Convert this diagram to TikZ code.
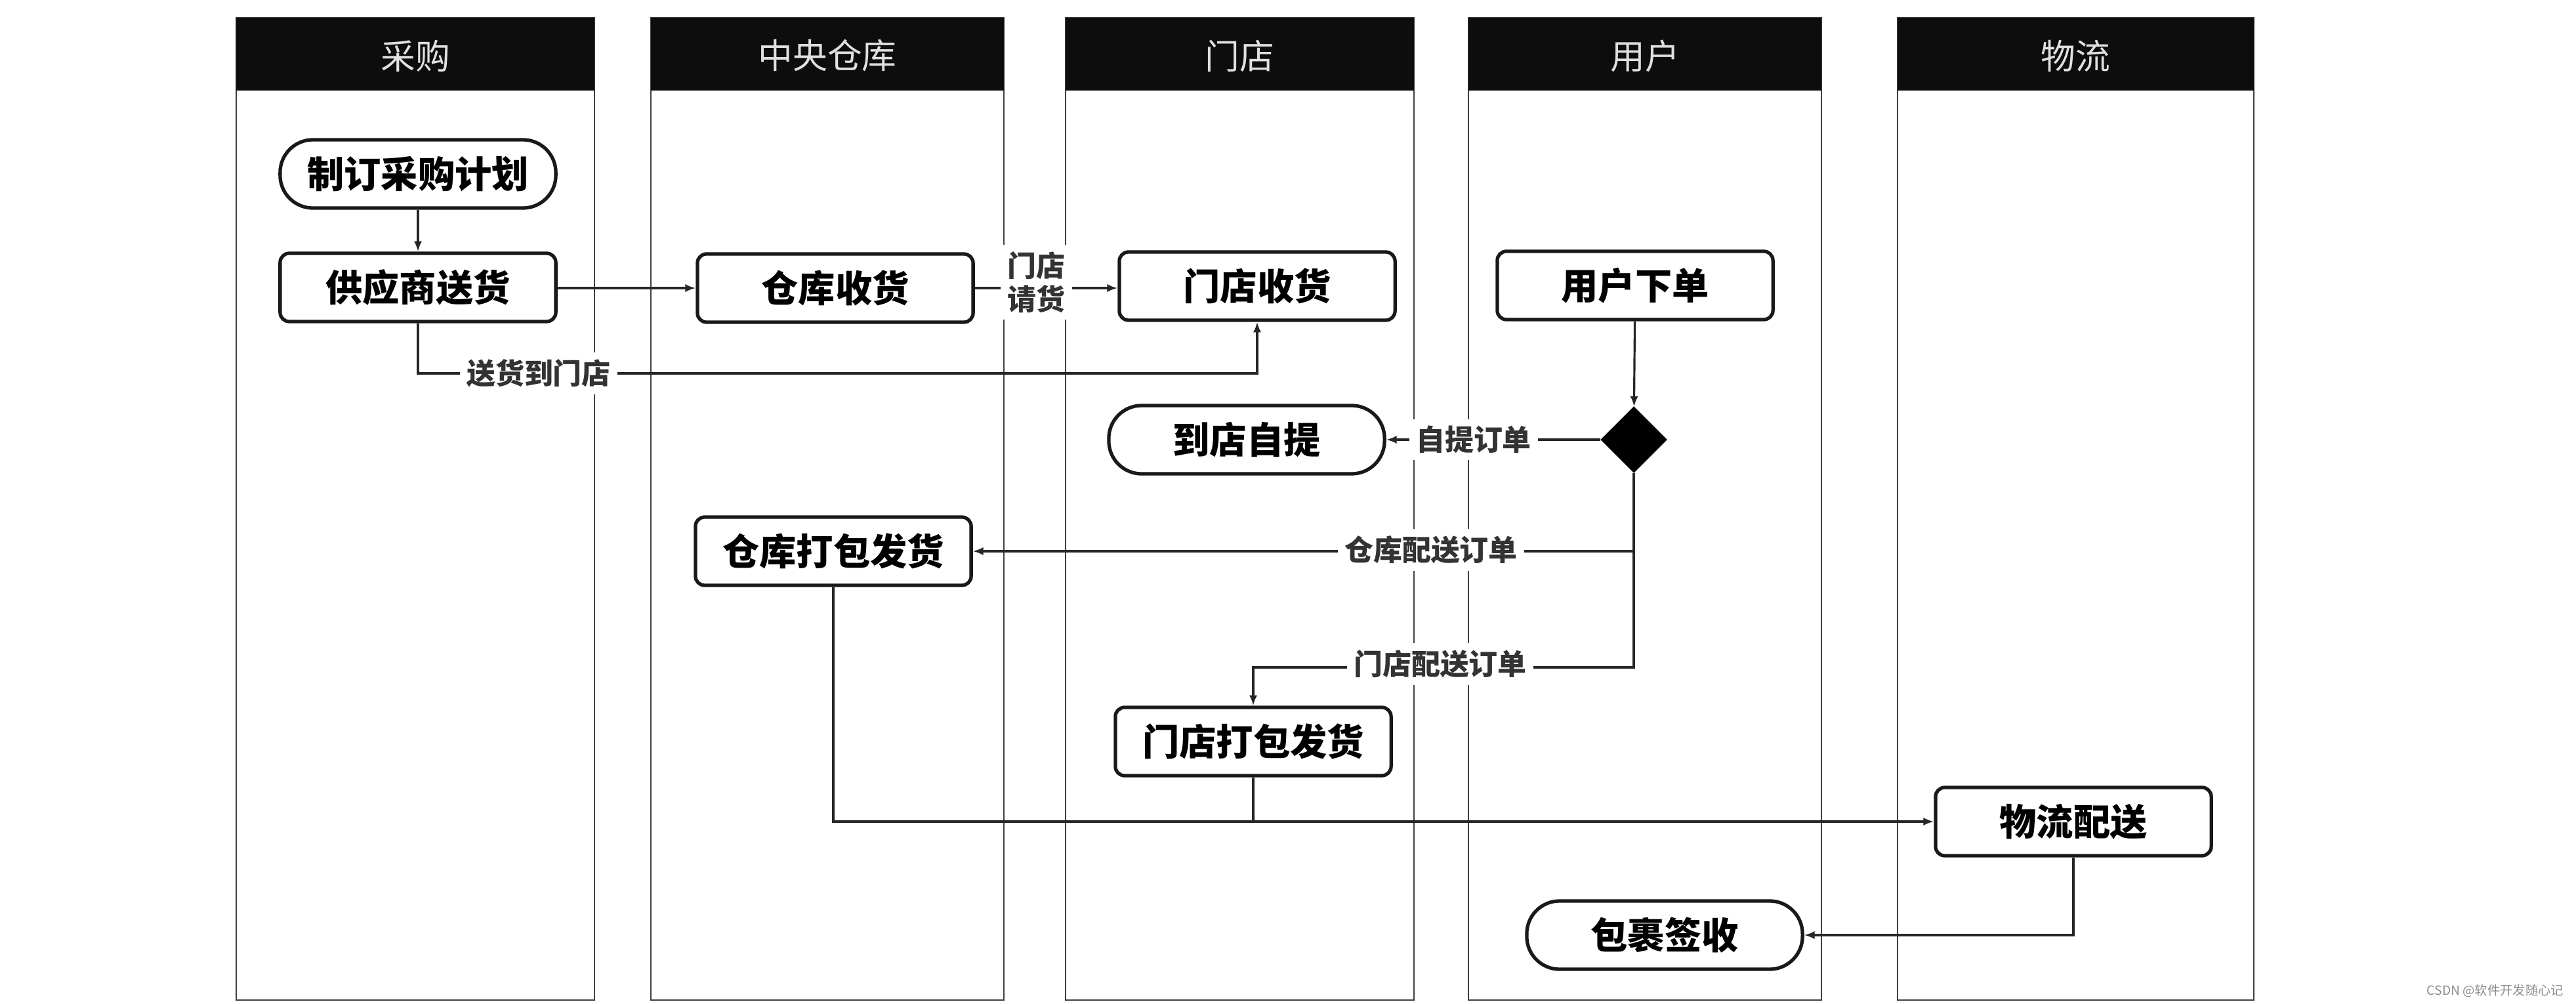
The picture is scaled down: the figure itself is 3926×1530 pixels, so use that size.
\documentclass[tikz,border=0pt]{standalone}
\usepackage{fontspec}
\newfontfamily\cjk{Noto Sans CJK SC}
\usetikzlibrary{shapes.geometric,arrows.meta,calc}
\begin{document}
\begin{tikzpicture}[x=0.01cm,y=-0.01cm,
  lane/.style={draw=black!75, line width=0.7pt},
  hdr/.style={fill=black!95},
  hdrtext/.style={text=black!12, font=\cjk\fontsize{15}{18}\selectfont},
  act/.style={draw=black!90, line width=1.5pt, rounded corners=4pt, fill=white, minimum width=4.2cm, minimum height=1.04cm, font=\cjk\bfseries\fontsize{16}{19}\selectfont, inner sep=0pt},
  term/.style={act, rounded corners=0.5cm},
  lbl/.style={fill=white, text=black!80, font=\cjk\bfseries\fontsize{12.5}{14.5}\selectfont, inner sep=3pt},
  arr/.style={draw=black!85, line width=0.9pt, -{Latex[length=4.5pt,width=3.5pt]}},
  ln/.style={draw=black!85, line width=0.9pt},
]
\useasboundingbox[fill=white] (0,0) rectangle (3926,1530);

% lanes
\foreach \xa/\xb/\nm/\txt in {360/906/h1/采购, 992/1530/h2/中央仓库, 1624/2155/h3/门店, 2238/2776/h4/用户, 2892/3435/h5/物流}{
  \draw[lane] (\xa,27) rectangle (\xb,1524);
  \fill[hdr] (\xa,27) rectangle (\xb,138);
  \node[hdrtext] (\nm) at ({(\xa+\xb)/2},85) {\txt};
}

% nodes
\node[term] (plan)   at (637,265)  {制订采购计划};
\node[act]  (supply) at (637,438)  {供应商送货};
\node[act]  (wrecv)  at (1273,439) {仓库收货};
\node[act]  (srecv)  at (1916,436) {门店收货};
\node[act]  (order)  at (2492,435) {用户下单};
\node[diamond, fill=black, draw=black, minimum width=1cm, minimum height=1cm, inner sep=0pt] (dia) at (2490,670) {};
\node[term] (pickup) at (1900,670) {到店自提};
\node[act]  (wpack)  at (1270,840) {仓库打包发货};
\node[act]  (spack)  at (1910,1130) {门店打包发货};
\node[act]  (logi)   at (3160,1252) {物流配送};
\node[term] (sign)   at (2537,1425) {包裹签收};

\coordinate (j1) at (637,569);
\coordinate (j2) at (2490,1017);

% connectors
\draw[arr] (plan) -- (supply);
\draw[arr] (supply.east |- wrecv.west) -- (wrecv.west);
\draw[arr] (supply.south) -- (j1) -| (srecv.south);
\draw[arr] (wrecv.east) -- (wrecv.east -| srecv.west);
\draw[arr] (order) -- (dia);
\draw[arr] (dia.west) -- (pickup.east);
\draw[arr] (dia.south) |- (wpack.east);
\draw[arr] (dia.south) -- (j2) -| (spack.north);
\draw[arr] (wpack.south) |- (logi.west);
\draw[ln] (spack.south) -- (spack.south |- logi.west);
\draw[arr] (logi.south) |- (sign.east);

% labels
\node[lbl] (l1) at (821,569) {送货到门店};
\node[lbl, align=center] (l2) at (1579,430) {门店\\请货};
\node[lbl] (l3) at (2246,670) {自提订单};
\node[lbl] (l4) at (2181,838) {仓库配送订单};
\node[lbl] (l5) at (2195,1012) {门店配送订单};

\node[text=black!45, font=\cjk\fontsize{5.5}{6}\selectfont, anchor=east, inner sep=0pt] (wm) at (3908,1510) {CSDN @软件开发随心记};
\end{tikzpicture}
\end{document}
